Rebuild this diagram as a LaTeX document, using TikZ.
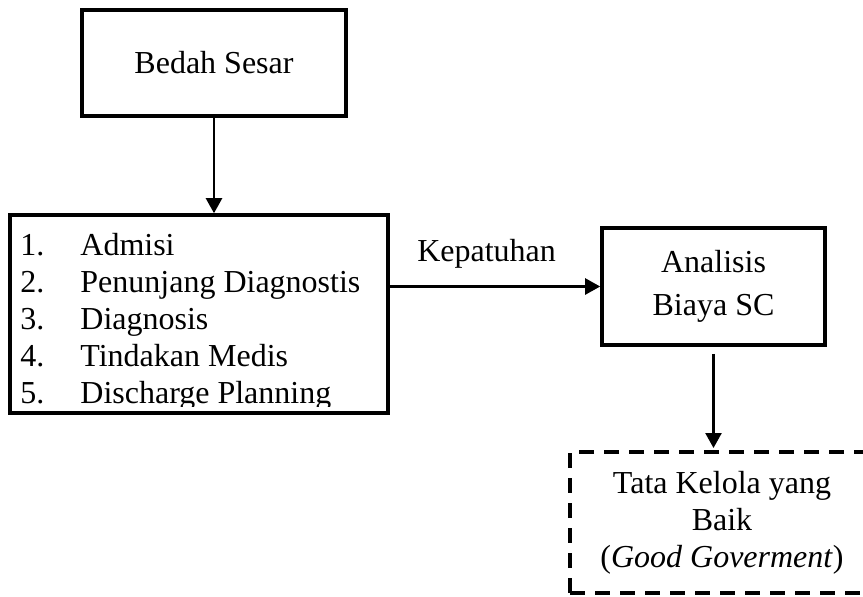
\documentclass[tikz,border=0pt]{standalone}
\usepackage{fontspec}
\setmainfont{Liberation Serif}
\usetikzlibrary{arrows.meta}

\begin{document}
\begin{tikzpicture}[x=0.5pt, y=-0.5pt,
    font=\fontsize{16pt}{18.4pt}\selectfont,
    box/.style={draw, line width=1.8pt, inner sep=0pt},
    arr/.style={-{Triangle[width=8pt,length=7.5pt]}, line width=1.2pt}]
    \useasboundingbox (0,0) rectangle (863,596);

    % Boxes
    \node[box, minimum width=132pt, minimum height=53pt] (sesar) at (214,63) {Bedah Sesar};
    \node[box, minimum width=189pt, minimum height=99pt] (layanan) at (199,314) {};
    \node[box, minimum width=111.5pt, minimum height=58.5pt, align=center,
        font=\fontsize{16pt}{21.5pt}\selectfont] (biaya) at (713.5,286.5) {Analisis\\Biaya SC};
    \node[box, dash pattern=on 7.5pt off 5pt, line width=2pt, minimum width=152pt,
        minimum height=70.5pt, align=center] (tata) at (722,522.5)
        {Tata Kelola yang\\Baik\\(\textit{Good Goverment})};

    % List of steps (last line cut by the box)
    \begin{scope}
        \clip (layanan.north west) rectangle ([yshift=4pt]layanan.south east);
        \foreach \txt [count=\i] in {Admisi, Penunjang Diagnostis, Diagnosis, Tindakan Medis, Discharge Planning}
            \node[anchor=base west, inner sep=0pt] (item\i) at (20,218+37*\i) {\makebox[30pt][l]{\i.}\txt};
    \end{scope}

    % Arrows
    \draw[arr] (sesar.south) -- (sesar.south |- layanan.north);
    \draw[arr] (layanan.east |- biaya.west) -- node[pos=0.46, above=5pt] (patuh) {Kepatuhan} (biaya.west);
    \draw[arr, shorten <=3.5pt, shorten >=1pt] (biaya.south) -- (biaya.south |- tata.north);
\end{tikzpicture}
\end{document}
